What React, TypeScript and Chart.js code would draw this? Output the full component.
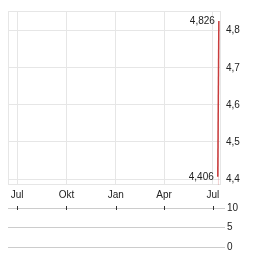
import React, { useEffect, useRef } from "react";
import { Chart, registerables } from "chart.js";
Chart.register(...registerables);

// ---- data ----
const priceDates = ["2025-07-10", "2025-07-12"];
const priceValues = [4.406, 4.826];
const volumeValues = [0, 0];
const monthTickDates = ["2024-07-01", "2024-10-01", "2025-01-01", "2025-04-01", "2025-07-01"];
const monthTickLabels = ["Jul", "Okt", "Jan", "Apr", "Jul"];
const priceTicks = [4.4, 4.5, 4.6, 4.7, 4.8];
const volumeTicks = [0, 5, 10];
const xStartDate = "2024-06-14";
const xEndDate = "2025-07-16";
const priceMin = 4.384;
const priceMax = 4.853;
const volumeMin = 0;
const volumeMax = 10;

const dayNum = (s: string) => Date.parse(s + "T00:00:00Z") / 86400000;
const monthTickDays = monthTickDates.map(dayNum);
const FONT = { family: "'Liberation Sans', Arial, sans-serif", size: 10 };
const TEXT = "#222";

const fmt = (v: number, d: number) => v.toFixed(d).replace(".", ",");

const framePlugin = {
  id: "frame",
  beforeDatasetsDraw(chart: any) {
    const { ctx, chartArea: a } = chart;
    ctx.save();
    ctx.strokeStyle = "#e6e6e6";
    ctx.lineWidth = 1;
    ctx.strokeRect(a.left + 0.5, a.top + 0.5, a.right - a.left - 1, a.bottom - a.top - 1);
    ctx.restore();
  },
};

const extremesPlugin = {
  id: "extremes",
  afterDatasetsDraw(chart: any) {
    const { ctx } = chart;
    const meta = chart.getDatasetMeta(0);
    const vals = priceValues;
    let iMax = 0, iMin = 0;
    vals.forEach((v, i) => {
      if (v > vals[iMax]) iMax = i;
      if (v < vals[iMin]) iMin = i;
    });
    ctx.save();
    ctx.font = `${FONT.size}px ${FONT.family}`;
    ctx.fillStyle = TEXT;
    ctx.textAlign = "right";
    ctx.textBaseline = "middle";
    [iMax, iMin].forEach((i) => {
      const p = meta.data[i];
      ctx.fillText(fmt(vals[i], 3), p.x - 4, p.y);
    });
    ctx.restore();
  },
};

const volTicksPlugin = {
  id: "volTicks",
  afterDraw(chart: any) {
    const { ctx, chartArea: a, scales } = chart;
    ctx.save();
    ctx.strokeStyle = "#333";
    ctx.lineWidth = 1;
    monthTickDays.forEach((d) => {
      const x = Math.round(scales.x.getPixelForValue(d)) + 0.5;
      ctx.beginPath();
      ctx.moveTo(x, a.top - 2);
      ctx.lineTo(x, a.top + 2);
      ctx.stroke();
    });
    ctx.restore();
  },
};

export default function App() {
  const mainRef = useRef<HTMLCanvasElement>(null);
  const volRef = useRef<HTMLCanvasElement>(null);

  useEffect(() => {
    const main = new Chart(mainRef.current!, {
      type: "line",
      data: {
        datasets: [
          {
            data: priceDates.map((d, i) => ({ x: dayNum(d), y: priceValues[i] })),
            borderColor: "#c83c3c",
            borderWidth: 1.5,
            backgroundColor: "rgba(205,90,90,0.35)",
            fill: "start",
            pointRadius: 0,
            tension: 0,
          },
        ],
      },
      options: {
        animation: false,
        responsive: false,
        events: [],
        layout: { padding: { left: 8, top: 7, right: 0, bottom: 0 } },
        plugins: { legend: { display: false }, tooltip: { enabled: false } },
        scales: {
          x: {
            type: "linear",
            min: dayNum(xStartDate),
            max: dayNum(xEndDate),
            afterBuildTicks: (s: any) => {
              s.ticks = monthTickDays.map((v) => ({ value: v }));
            },
            ticks: {
              callback: (v: any) => monthTickLabels[monthTickDays.indexOf(v)] ?? "",
              maxRotation: 0,
              autoSkip: false,
              padding: 4,
              color: TEXT,
              font: FONT,
            },
            grid: { color: "#e6e6e6", drawTicks: false },
            border: { display: false },
            afterFit: (s: any) => {
              s.height = 15;
            },
          },
          y: {
            position: "right",
            min: priceMin,
            max: priceMax,
            afterBuildTicks: (s: any) => {
              s.ticks = priceTicks.map((v) => ({ value: v }));
            },
            ticks: {
              callback: (v: any) => fmt(Number(v), 1),
              padding: 5,
              color: TEXT,
              font: FONT,
            },
            grid: { color: "#e6e6e6", drawTicks: false },
            border: { display: false },
            afterFit: (s: any) => {
              s.width = 43;
            },
          },
        },
      } as any,
      plugins: [framePlugin, extremesPlugin],
    });

    const vol = new Chart(volRef.current!, {
      type: "bar",
      data: {
        datasets: [
          {
            data: priceDates.map((d, i) => ({ x: dayNum(d), y: volumeValues[i] })),
            backgroundColor: "#888",
          },
        ],
      },
      options: {
        animation: false,
        responsive: false,
        events: [],
        layout: { padding: { left: 8, top: 7, right: 0, bottom: 8 } },
        plugins: { legend: { display: false }, tooltip: { enabled: false } },
        scales: {
          x: {
            type: "linear",
            display: false,
            offset: false,
            min: dayNum(xStartDate),
            max: dayNum(xEndDate),
          },
          y: {
            position: "right",
            min: volumeMin,
            max: volumeMax,
            afterBuildTicks: (s: any) => {
              s.ticks = volumeTicks.map((v) => ({ value: v }));
            },
            ticks: { padding: 2, color: TEXT, font: FONT },
            grid: { color: "#cccccc", drawTicks: true, tickLength: 4 },
            border: { display: false },
            afterFit: (s: any) => {
              s.width = 43;
            },
          },
        },
      } as any,
      plugins: [volTicksPlugin],
    });

    return () => {
      main.destroy();
      vol.destroy();
    };
  }, []);

  return (
    <div style={{ position: "fixed", left: 0, top: 0, width: 264, height: 255, background: "#fff" }}>
      <canvas ref={mainRef} width={264} height={200} style={{ position: "absolute", left: 0, top: 0, width: 264, height: 200 }} />
      <canvas ref={volRef} width={264} height={55} style={{ position: "absolute", left: 0, top: 200, width: 264, height: 55 }} />
    </div>
  );
}
